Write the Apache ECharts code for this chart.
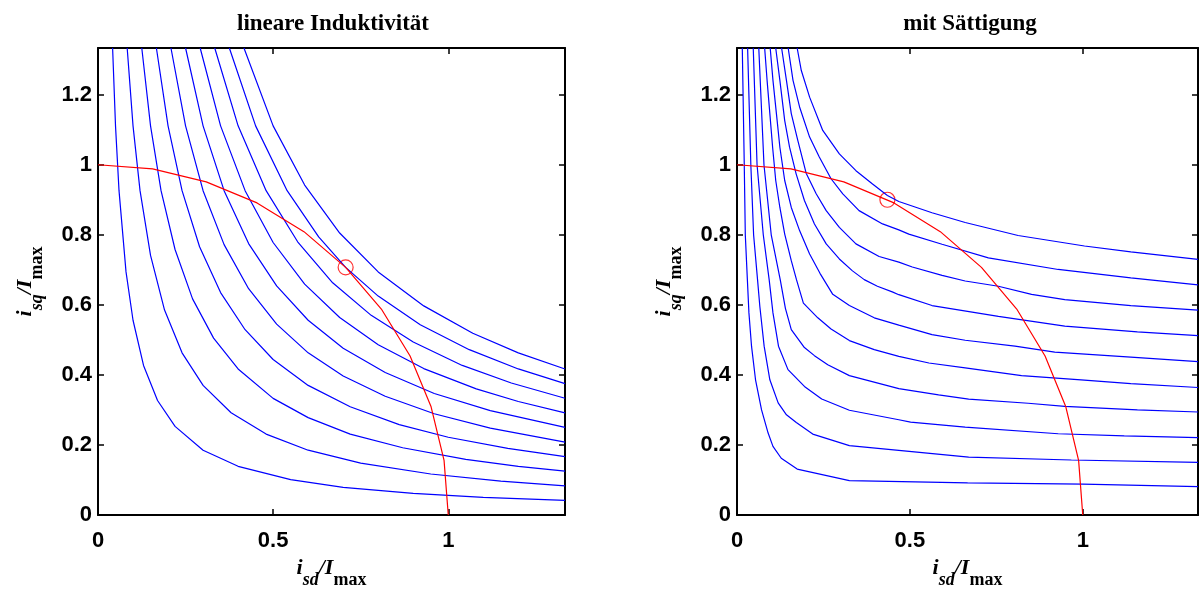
<!DOCTYPE html>
<html><head><meta charset="utf-8">
<script src="https://cdn.jsdelivr.net/npm/echarts@6/dist/echarts.min.js"></script>
<style>html,body{margin:0;padding:0;background:#fff}#c{width:1201px;height:595px}</style>
</head><body><div id="c"></div><script>
// ---- data ----
const titles = ['lineare Induktivität', 'mit Sättigung'];
const xTickValues = [0, 0.5, 1];
const xTickLabels = ['0', '0.5', '1'];
const yTickValues = [0, 0.2, 0.4, 0.6, 0.8, 1, 1.2];
const yTickLabels = ['0', '0.2', '0.4', '0.6', '0.8', '1', '1.2'];
const axisMax = 1.3333;

// left plot: torque curves, linear inductance
const L1 = [[0.0417,1.3333],[0.05,1.111],[0.06,0.926],[0.08,0.694],[0.1,0.556],[0.13,0.427],[0.17,0.327],[0.22,0.253],[0.3,0.185],[0.4,0.139],[0.55,0.101],[0.7,0.079],[0.9,0.062],[1.1,0.0505],[1.3333,0.0417]];
const L2 = [[0.0833,1.3333],[0.1,1.111],[0.12,0.926],[0.15,0.741],[0.19,0.585],[0.24,0.463],[0.3,0.370],[0.38,0.292],[0.48,0.231],[0.6,0.185],[0.75,0.148],[0.95,0.117],[1.15,0.0966],[1.3333,0.0833]];
const L3 = [[0.125,1.3333],[0.15,1.111],[0.18,0.926],[0.22,0.758],[0.27,0.617],[0.33,0.505],[0.4,0.417],[0.5,0.333],[0.6,0.278],[0.72,0.231],[0.87,0.192],[1.05,0.159],[1.2,0.139],[1.3333,0.125]];
const L4 = [[0.1667,1.3333],[0.2,1.111],[0.24,0.926],[0.29,0.766],[0.35,0.635],[0.42,0.529],[0.5,0.444],[0.6,0.370],[0.72,0.309],[0.86,0.258],[1.0,0.222],[1.17,0.190],[1.3333,0.1667]];
const L5 = [[0.2083,1.3333],[0.25,1.111],[0.3,0.926],[0.36,0.772],[0.43,0.646],[0.51,0.545],[0.6,0.463],[0.7,0.397],[0.82,0.339],[0.96,0.289],[1.12,0.248],[1.3333,0.2083]];
const L6 = [[0.25,1.3333],[0.3,1.111],[0.36,0.926],[0.43,0.775],[0.51,0.654],[0.6,0.556],[0.7,0.476],[0.82,0.407],[0.96,0.347],[1.12,0.298],[1.3333,0.25]];
const L7 = [[0.2917,1.3333],[0.35,1.111],[0.42,0.926],[0.5,0.778],[0.59,0.659],[0.69,0.564],[0.8,0.486],[0.93,0.418],[1.08,0.360],[1.2,0.324],[1.3333,0.2917]];
const L8 = [[0.3333,1.3333],[0.4,1.111],[0.48,0.926],[0.57,0.780],[0.67,0.663],[0.78,0.570],[0.9,0.494],[1.04,0.427],[1.18,0.377],[1.3333,0.3333]];
const L9 = [[0.375,1.3333],[0.45,1.111],[0.54,0.926],[0.63,0.794],[0.707,0.707],[0.8,0.625],[0.92,0.543],[1.06,0.472],[1.2,0.417],[1.3333,0.375]];
const L10 = [[0.4167,1.3333],[0.5,1.111],[0.59,0.942],[0.69,0.805],[0.8,0.694],[0.93,0.597],[1.07,0.519],[1.2,0.463],[1.3333,0.4167]];

// right plot: torque curves with saturation
const S1 = [[0.0153,1.3333],[0.021,1.0],[0.024,0.8],[0.030,0.672],[0.0345,0.577],[0.042,0.482],[0.0536,0.386],[0.071,0.300],[0.090,0.234],[0.104,0.196],[0.128,0.162],[0.174,0.131],[0.325,0.098],[0.667,0.092],[1.0,0.088],[1.3333,0.081]];
const S2 = [[0.0307,1.3333],[0.040,1.0],[0.048,0.8],[0.0594,0.672],[0.066,0.596],[0.0785,0.482],[0.095,0.386],[0.119,0.320],[0.143,0.286],[0.1715,0.264],[0.219,0.231],[0.325,0.198],[0.483,0.183],[0.670,0.165],[0.967,0.157],[1.3333,0.150]];
const S3 = [[0.047,1.3333],[0.058,1.0],[0.076,0.8],[0.093,0.672],[0.104,0.577],[0.12,0.482],[0.1475,0.415],[0.195,0.367],[0.245,0.331],[0.325,0.299],[0.468,0.272],[0.502,0.265],[0.660,0.251],[0.929,0.232],[1.12,0.226],[1.3333,0.221]];
const S4 = [[0.063,1.3333],[0.078,1.0],[0.099,0.8],[0.125,0.672],[0.14,0.59],[0.157,0.529],[0.195,0.478],[0.224,0.455],[0.2625,0.429],[0.325,0.398],[0.468,0.361],[0.583,0.343],[0.670,0.331],[0.842,0.319],[0.948,0.310],[1.158,0.300],[1.3333,0.294]];
const S5 = [[0.080,1.3333],[0.087,1.241],[0.095,1.146],[0.103,1.050],[0.112,0.955],[0.124,0.878],[0.138,0.802],[0.157,0.726],[0.172,0.672],[0.192,0.605],[0.2337,0.563],[0.272,0.531],[0.325,0.498],[0.397,0.472],[0.468,0.453],[0.555,0.434],[0.660,0.420],[0.823,0.398],[0.995,0.386],[1.139,0.375],[1.3333,0.364]];
const S6 = [[0.096,1.3333],[0.104,1.241],[0.114,1.146],[0.124,1.050],[0.138,0.955],[0.157,0.878],[0.181,0.812],[0.210,0.745],[0.240,0.690],[0.277,0.630],[0.325,0.598],[0.397,0.563],[0.468,0.542],[0.564,0.515],[0.660,0.499],[0.804,0.482],[0.919,0.465],[1.139,0.451],[1.3333,0.438]];
const S7 = [[0.112,1.3333],[0.124,1.241],[0.138,1.126],[0.152,1.050],[0.171,0.974],[0.195,0.898],[0.224,0.831],[0.258,0.774],[0.296,0.731],[0.334,0.697],[0.368,0.672],[0.406,0.653],[0.449,0.637],[0.468,0.629],[0.564,0.598],[0.756,0.567],[0.948,0.539],[1.158,0.523],[1.3333,0.512]];
const S8 = [[0.129,1.3333],[0.143,1.241],[0.157,1.146],[0.176,1.069],[0.200,0.976],[0.229,0.917],[0.258,0.869],[0.296,0.821],[0.344,0.774],[0.411,0.738],[0.468,0.722],[0.507,0.708],[0.593,0.684],[0.660,0.668],[0.756,0.653],[0.852,0.630],[0.948,0.615],[1.139,0.598],[1.3333,0.585]];
const S9 = [[0.148,1.3333],[0.162,1.241],[0.181,1.165],[0.210,1.079],[0.238,1.022],[0.272,0.960],[0.306,0.917],[0.353,0.869],[0.421,0.831],[0.468,0.814],[0.497,0.802],[0.593,0.773],[0.727,0.734],[0.929,0.701],[1.139,0.677],[1.3333,0.657]];
const S10 = [[0.174,1.3333],[0.186,1.269],[0.210,1.193],[0.248,1.098],[0.296,1.031],[0.344,0.983],[0.392,0.945],[0.435,0.912],[0.468,0.895],[0.564,0.863],[0.660,0.835],[0.813,0.798],[1.005,0.768],[1.139,0.751],[1.3333,0.730]];

// current limit (red) and operating points (red circle)
const currentLimit = [[0,1],[0.156,0.988],[0.309,0.951],[0.454,0.891],[0.588,0.809],[0.707,0.707],[0.809,0.588],[0.891,0.454],[0.951,0.309],[0.988,0.156],[1,0]];
const opLinear = [[0.707,0.707]];
const opSaturated = [[0.435,0.900]];

const linearCurves = [L1,L2,L3,L4,L5,L6,L7,L8,L9,L10];
const satCurves = [S1,S2,S3,S4,S5,S6,S7,S8,S9,S10];

// ---- chart ----
const serif = 'Liberation Serif, Times New Roman, serif';
const sans = 'Liberation Sans, Arial, sans-serif';
const grids = [
  {left: 98, top: 48, width: 467, height: 467},
  {left: 737, top: 48, width: 463, height: 467}
];
function fmt(values, labels) {
  return v => { const i = values.findIndex(t => Math.abs(t - v) < 1e-6); return i >= 0 ? labels[i] : ''; };
}
const nameRich = {
  m: {fontFamily: serif, fontStyle: 'italic', fontWeight: 'bold', fontSize: 22, lineHeight: 22, verticalAlign: 'top', color: '#000'},
  s: {fontFamily: serif, fontStyle: 'italic', fontWeight: 'bold', fontSize: 18, lineHeight: 18, padding: [14,0,0,0], verticalAlign: 'top', color: '#000'},
  n: {fontFamily: serif, fontWeight: 'bold', fontSize: 18, lineHeight: 18, padding: [14,0,0,0], verticalAlign: 'top', color: '#000'}
};
const lineBlack = {onZero: false, lineStyle: {color: '#000', width: 2}};
const tickIn = {show: true, inside: true, length: 6, lineStyle: {color: '#000', width: 1.5}};
const xAxes = [], yAxes = [];
[0,1].forEach(g => {
  xAxes.push({type: 'value', gridIndex: g, position: 'bottom', min: 0, max: axisMax, interval: 0.5,
    axisLine: lineBlack, axisTick: tickIn, splitLine: {show: false},
    axisLabel: {formatter: fmt(xTickValues, xTickLabels), fontFamily: sans, fontWeight: 'bold', fontSize: 22, color: '#000', margin: 15},
    name: '{m|i}{s|sd}{m|/I}{n|max}', nameLocation: 'middle', nameGap: 42, nameTextStyle: {rich: nameRich}});
  xAxes.push({type: 'value', gridIndex: g, position: 'top', min: 0, max: axisMax, interval: 0.5,
    axisLine: lineBlack, axisTick: tickIn, splitLine: {show: false}, axisLabel: {show: false}});
  yAxes.push({type: 'value', gridIndex: g, position: 'left', min: 0, max: axisMax, interval: 0.2,
    axisLine: lineBlack, axisTick: tickIn, splitLine: {show: false},
    axisLabel: {formatter: fmt(yTickValues, yTickLabels), fontFamily: sans, fontWeight: 'bold', fontSize: 22, color: '#000', margin: 6},
    name: '{m|i}{s|sq}{m|/I}{n|max}', nameLocation: 'middle', nameGap: 62, nameTextStyle: {rich: nameRich}});
  yAxes.push({type: 'value', gridIndex: g, position: 'right', min: 0, max: axisMax, interval: 0.2,
    axisLine: lineBlack, axisTick: tickIn, splitLine: {show: false}, axisLabel: {show: false}});
});
const series = [];
function addCurves(curves, g) {
  curves.forEach(c => series.push({type: 'line', xAxisIndex: 2*g, yAxisIndex: 2*g, data: c, showSymbol: false,
    symbol: 'none', clip: true, lineStyle: {color: '#0000ff', width: 1.2}, silent: true}));
}
addCurves(linearCurves, 0);
addCurves(satCurves, 1);
[0,1].forEach(g => {
  series.push({type: 'line', xAxisIndex: 2*g, yAxisIndex: 2*g, data: currentLimit, symbol: 'none', clip: true,
    lineStyle: {color: '#ff0000', width: 1.2}, silent: true});
  series.push({type: 'scatter', xAxisIndex: 2*g, yAxisIndex: 2*g, data: g === 0 ? opLinear : opSaturated,
    symbol: 'circle', symbolSize: 15, itemStyle: {color: 'rgba(0,0,0,0)', borderColor: '#ff0000', borderWidth: 1.2}, silent: true});
});
const chart = echarts.init(document.getElementById('c'), null, {renderer: 'canvas'});
chart.setOption({
  animation: false,
  backgroundColor: '#fff',
  title: [
    {text: titles[0], left: 328, top: 8, textAlign: 'center', textStyle: {fontFamily: serif, fontWeight: 'bold', fontSize: 23, color: '#000'}},
    {text: titles[1], left: 965, top: 8, textAlign: 'center', textStyle: {fontFamily: serif, fontWeight: 'bold', fontSize: 23, color: '#000'}}
  ],
  grid: grids,
  xAxis: xAxes,
  yAxis: yAxes,
  series: series
});
</script></body></html>
